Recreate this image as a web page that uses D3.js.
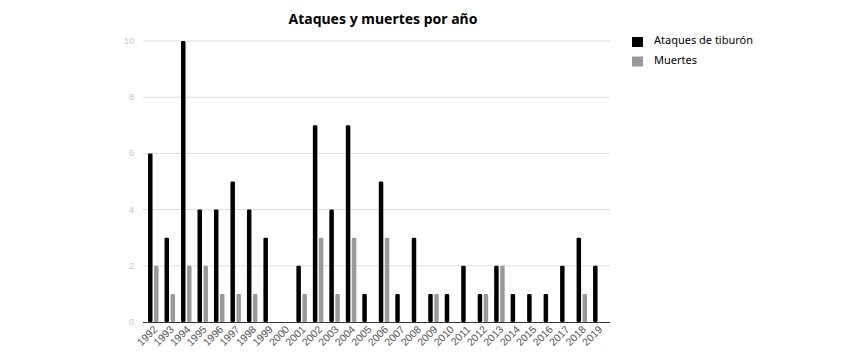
<!DOCTYPE html>
<html>
<head>
<meta charset="utf-8">
<script src="https://cdn.jsdelivr.net/npm/d3@7/dist/d3.min.js"></script>
<style>
  body { margin: 0; background: #fff; }
  svg { display: block; }
</style>
</head>
<body>
<svg id="chart" width="862" height="360"></svg>
<script>
const years = ["1992","1993","1994","1995","1996","1997","1998","1999","2000","2001","2002","2003","2004","2005","2006","2007","2008","2009","2010","2011","2012","2013","2014","2015","2016","2017","2018","2019"];
const ataques = [6,3,10,4,4,5,4,3,0,2,7,4,7,1,5,1,3,1,1,2,1,2,1,1,1,2,3,2];
const muertes = [2,1,2,2,1,1,1,0,0,1,3,1,3,0,3,0,0,1,0,0,1,2,0,0,0,0,1,0];
const yTicks = [0,2,4,6,8,10];
const seriesNames = ["Ataques de tiburón", "Muertes"];
const seriesColors = ["#000000", "#999999"];

const svg = d3.select("#chart");
const plotLeft = 143, plotRight = 610, plotTop = 41, plotBottom = 322;

const x = d3.scaleBand().domain(years).range([144.8, 606.3]).padding(0);
const y = d3.scaleLinear().domain([0, 10]).range([plotBottom, plotTop]);

// gridlines
svg.append("g").selectAll("line").data(yTicks.filter(t => t > 0)).join("line")
  .attr("x1", plotLeft).attr("x2", plotRight)
  .attr("y1", d => y(d)).attr("y2", d => y(d))
  .attr("stroke", "#dddddd").attr("stroke-width", 1);

// y labels
svg.append("g").selectAll("text").data(yTicks).join("text")
  .attr("x", 134).attr("y", d => y(d) + 3)
  .attr("text-anchor", "end")
  .attr("font-family", "Liberation Sans, Arial, sans-serif")
  .attr("font-size", 9)
  .attr("fill", "#c4c4c4")
  .text(d => d);

const bw = 4.5;
const groups = svg.append("g");
years.forEach((yr, i) => {
  const c = x(yr) + x.bandwidth() / 2;
  if (ataques[i] > 0) {
    groups.append("rect")
      .attr("x", c - 5).attr("width", bw)
      .attr("y", y(ataques[i])).attr("height", plotBottom - y(ataques[i]))
      .attr("rx", 1.2)
      .attr("fill", seriesColors[0]);
  }
  if (muertes[i] > 0) {
    groups.append("rect")
      .attr("x", c + 1).attr("width", bw)
      .attr("y", y(muertes[i])).attr("height", plotBottom - y(muertes[i]))
      .attr("rx", 1.2)
      .attr("fill", seriesColors[1]);
  }
});

// baseline
svg.append("line")
  .attr("x1", plotLeft).attr("x2", plotRight)
  .attr("y1", plotBottom + 0.5).attr("y2", plotBottom + 0.5)
  .attr("stroke", "#333").attr("stroke-width", 1);

// x labels
svg.append("g").selectAll("text").data(years).join("text")
  .attr("transform", d => `translate(${x(d) + x.bandwidth()/2 + 5},${plotBottom + 8}) rotate(-45)`)
  .attr("text-anchor", "end")
  .attr("font-family", "Liberation Sans, Arial, sans-serif")
  .attr("font-size", 10.5)
  .attr("fill", "#555")
  .text(d => d);

// title
svg.append("text")
  .attr("x", 383).attr("y", 24)
  .attr("text-anchor", "middle")
  .attr("font-family", "Noto Sans, sans-serif")
  .attr("font-weight", "bold")
  .attr("font-size", 14)
  .attr("fill", "#000")
  .text("Ataques y muertes por año");

// legend
const lg = svg.append("g");
seriesNames.forEach((n, i) => {
  lg.append("rect")
    .attr("x", 632).attr("y", 37 + i * 19.5)
    .attr("width", 11).attr("height", 10)
    .attr("fill", seriesColors[i]);
  lg.append("text")
    .attr("x", 654).attr("y", 44 + i * 19.5)
    .attr("font-family", "Noto Sans, sans-serif")
    .attr("font-size", 11)
    .attr("fill", "#000")
    .text(n);
});
</script>
</body>
</html>
